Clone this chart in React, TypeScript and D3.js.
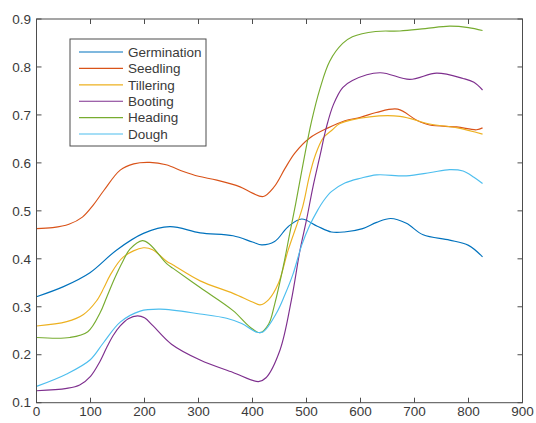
import React from "react";
import * as d3 from "d3";

const seriesNames = ["Germination", "Seedling", "Tillering", "Booting", "Heading", "Dough"];
const seriesColors = ["#0072BD", "#D95319", "#EDB120", "#7E2F8E", "#77AC30", "#4DBEEE"];

const germX = [0, 50, 99, 148, 198, 247, 303, 364, 400, 417, 441, 466, 491, 520, 546, 570, 604, 630, 656, 685, 716, 765, 800, 826];
const germY = [0.321, 0.342, 0.371, 0.418, 0.453, 0.467, 0.454, 0.448, 0.435, 0.429, 0.436, 0.467, 0.483, 0.468, 0.456, 0.456, 0.463, 0.476, 0.484, 0.474, 0.45, 0.439, 0.428, 0.404];

const seedX = [0, 30, 60, 85, 105, 125, 155, 180, 210, 240, 272, 300, 334, 377, 400, 420, 440, 460, 478, 506, 540, 571, 600, 629, 669, 704, 728, 778, 815, 826];
const seedY = [0.463, 0.465, 0.472, 0.487, 0.512, 0.543, 0.585, 0.598, 0.601, 0.596, 0.582, 0.572, 0.564, 0.55, 0.537, 0.53, 0.55, 0.588, 0.62, 0.652, 0.673, 0.688, 0.695, 0.705, 0.712, 0.689, 0.679, 0.675, 0.669, 0.673];

const tillX = [0, 56, 87, 111, 125, 136, 161, 198, 215, 241, 253, 303, 364, 400, 414, 430, 448, 466, 493, 505, 516, 531, 548, 562, 617, 673, 728, 780, 826];
const tillY = [0.26, 0.269, 0.284, 0.312, 0.34, 0.365, 0.404, 0.423, 0.419, 0.395, 0.387, 0.354, 0.328, 0.31, 0.304, 0.315, 0.349, 0.418, 0.509, 0.571, 0.615, 0.652, 0.669, 0.682, 0.696, 0.697, 0.681, 0.673, 0.66];

const bootX = [0, 56, 80, 100, 117, 130, 142, 155, 170, 187, 200, 216, 250, 303, 364, 411, 425, 451, 472, 488, 500, 512, 525, 537, 550, 567, 585, 636, 691, 741, 790, 810, 826];
const bootY = [0.125, 0.13, 0.137, 0.155, 0.185, 0.215, 0.24, 0.26, 0.275, 0.281, 0.277, 0.26, 0.222, 0.189, 0.163, 0.144, 0.152, 0.21, 0.314, 0.418, 0.481, 0.55, 0.615, 0.675, 0.722, 0.757, 0.772, 0.788, 0.774, 0.787, 0.776, 0.768, 0.752];

const headX = [0, 62, 95, 118, 130, 145, 160, 173, 196, 210, 241, 253, 303, 364, 395, 414, 430, 441, 457, 469, 480, 494, 509, 525, 543, 567, 585, 628, 673, 720, 765, 800, 826];
const headY = [0.236, 0.236, 0.248, 0.288, 0.32, 0.36, 0.395, 0.42, 0.438, 0.43, 0.39, 0.38, 0.34, 0.292, 0.258, 0.246, 0.264, 0.305, 0.384, 0.453, 0.515, 0.6, 0.685, 0.755, 0.812, 0.849, 0.863, 0.874, 0.875, 0.88, 0.885, 0.882, 0.876];

const doughX = [0, 56, 99, 124, 155, 192, 229, 303, 352, 380, 408, 420, 445, 460, 475, 491, 506, 520, 531, 546, 571, 600, 630, 685, 730, 765, 790, 810, 826];
const doughY = [0.134, 0.16, 0.189, 0.225, 0.268, 0.291, 0.295, 0.285, 0.276, 0.265, 0.247, 0.248, 0.288, 0.325, 0.368, 0.428, 0.47, 0.5, 0.52, 0.54, 0.558, 0.568, 0.575, 0.573, 0.58, 0.586, 0.583, 0.57, 0.557];

const seriesX = [germX, seedX, tillX, bootX, headX, doughX];
const seriesY = [germY, seedY, tillY, bootY, headY, doughY];

const xTicks = [0, 100, 200, 300, 400, 500, 600, 700, 800, 900];
const yTicks = [0.1, 0.2, 0.3, 0.4, 0.5, 0.6, 0.7, 0.8, 0.9];

export default function App() {
  const W = 536, H = 423;
  const left = 36.5, right = 522.5, top = 19, bottom = 402.7;
  const x = d3.scaleLinear().domain([0, 900]).range([left, right]);
  const y = d3.scaleLinear().domain([0.1, 0.9]).range([bottom, top]);
  const line = d3.line<[number, number]>().x(d => x(d[0])).y(d => y(d[1])).curve(d3.curveCatmullRom.alpha(0.5));
  const axisColor = "#4d4d4d";
  const textColor = "#3a3a3a";
  const font = "'Liberation Sans', Arial, sans-serif";
  const tl = 5;

  const legX = 70, legY = 39, legW = 136, legH = 107;
  const rowH = 16.4;

  return (
    <svg width={W} height={H} style={{ position: "absolute", left: 0, top: 0, background: "#fff" }}>
      <rect x={0} y={0} width={W} height={H} fill="#fff" />
      {seriesNames.map((n, i) => (
        <path key={n} d={line(seriesX[i].map((v, j) => [v, seriesY[i][j]] as [number, number])) || ""}
          fill="none" stroke={seriesColors[i]} strokeWidth={1.15} />
      ))}
      <rect x={left} y={top} width={right - left} height={bottom - top} fill="none" stroke={axisColor} strokeWidth={1} />
      {xTicks.map(t => (
        <g key={"x" + t}>
          <line x1={x(t)} x2={x(t)} y1={bottom} y2={bottom - tl} stroke={axisColor} />
          <line x1={x(t)} x2={x(t)} y1={top} y2={top + tl} stroke={axisColor} />
          <text x={x(t)} y={416} textAnchor="middle" fontFamily={font} fontSize={13.5} fill={textColor}>{t}</text>
        </g>
      ))}
      {yTicks.map(t => (
        <g key={"y" + t}>
          <line x1={left} x2={left + tl} y1={y(t)} y2={y(t)} stroke={axisColor} />
          <line x1={right} x2={right - tl} y1={y(t)} y2={y(t)} stroke={axisColor} />
          <text x={31} y={y(t)} dy="0.35em" textAnchor="end" fontFamily={font} fontSize={13.5} fill={textColor}>{t.toFixed(1)}</text>
        </g>
      ))}
      <rect x={legX} y={legY} width={legW} height={legH} fill="#fff" stroke={axisColor} strokeWidth={1} />
      {seriesNames.map((n, i) => {
        const cy = 52 + i * rowH;
        return (
          <g key={"leg" + n}>
            <line x1={79} x2={123} y1={cy} y2={cy} stroke={seriesColors[i]} strokeWidth={1.15} />
            <text x={128} y={cy} dy="0.35em" fontFamily={font} fontSize={13.5} fill={textColor}>{n}</text>
          </g>
        );
      })}
    </svg>
  );
}
